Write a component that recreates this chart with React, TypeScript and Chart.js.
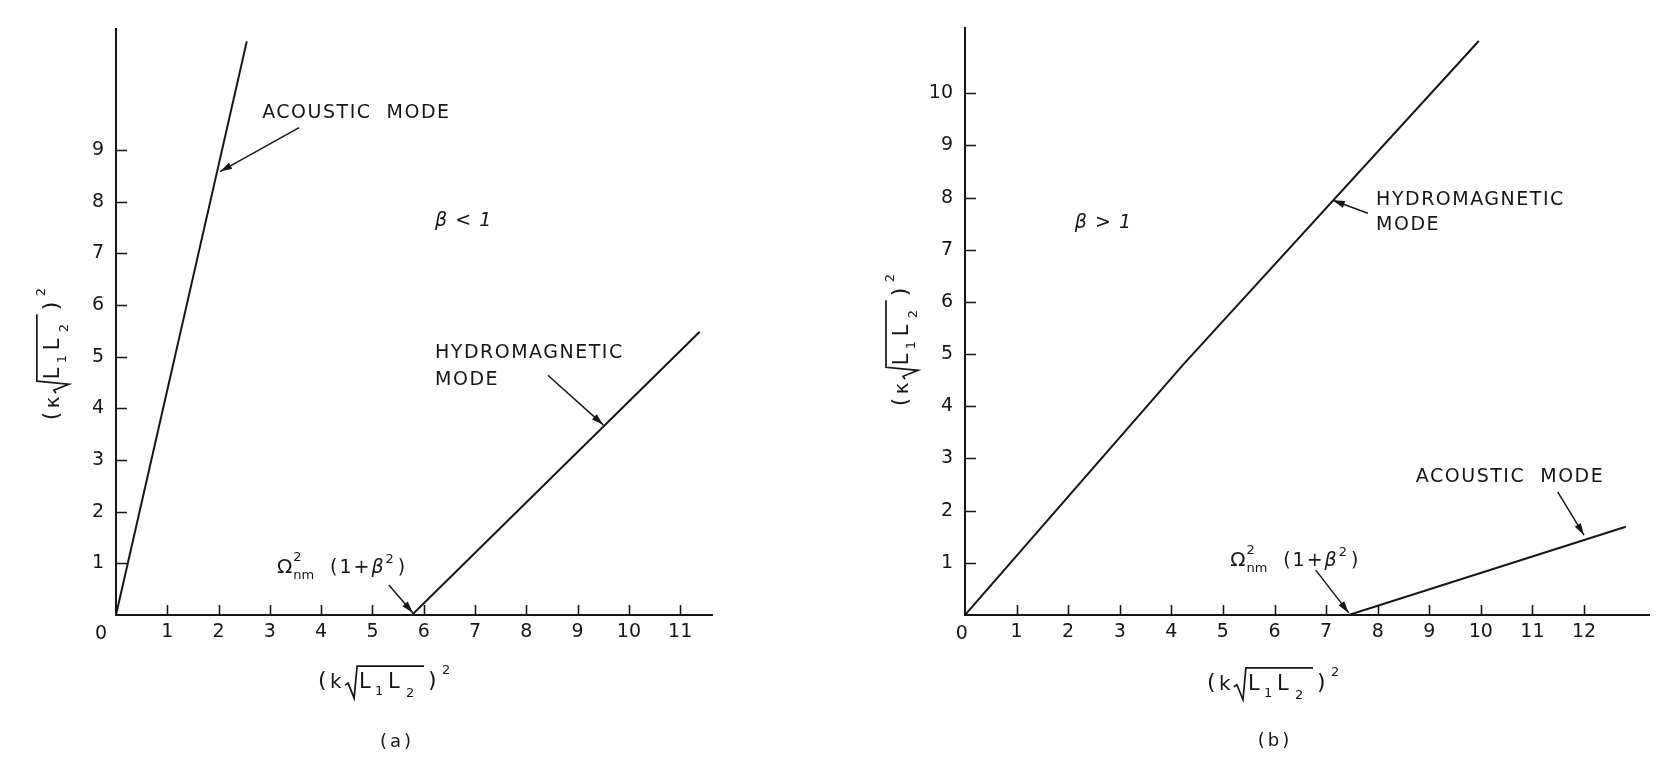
import React, { useEffect, useRef } from "react";
import { Chart, registerables } from "chart.js";

Chart.register(...registerables);

const FONT = '"DejaVu Sans", "Liberation Sans", sans-serif';
const INK = "#161616";

// ---------- Panel (a): beta < 1 ----------
const A_X_TICKS = [0, 1, 2, 3, 4, 5, 6, 7, 8, 9, 10, 11];
const A_Y_TICKS = [1, 2, 3, 4, 5, 6, 7, 8, 9];
const A_X_MAX = 11.62;
const A_Y_MAX = 11.34;
const A_ACOUSTIC_X = [0, 2.55];
const A_ACOUSTIC_Y = [0, 11.1];
const A_HYDRO_X = [5.77, 11.38];
const A_HYDRO_Y = [0, 5.48];

// ---------- Panel (b): beta > 1 ----------
const B_X_TICKS = [0, 1, 2, 3, 4, 5, 6, 7, 8, 9, 10, 11, 12];
const B_Y_TICKS = [1, 2, 3, 4, 5, 6, 7, 8, 9, 10];
const B_X_MAX = 13.26;
const B_Y_MAX = 11.25;
const B_HYDRO_X = [0, 4.23, 9.96];
const B_HYDRO_Y = [0, 4.8, 11.0];
const B_ACOUSTIC_X = [7.44, 12.81];
const B_ACOUSTIC_Y = [0, 1.69];

type Pt = [number, number];
type Label = { text: string; at: Pt; italic?: boolean };
type Arrow = { from: Pt; to: Pt };

type PanelCfg = {
  xTicks: number[];
  yTicks: number[];
  xMax: number;
  yMax: number;
  series: { xs: number[]; ys: number[] }[];
  padding: { left: number; right: number; top: number; bottom: number };
  labels: Label[];
  arrows: Arrow[];
  omegaAt: Pt;
  xTitleAt: Pt;
  yTitleAt: Pt;
  tag: string;
  tagAt: Pt;
  originLabelAt: Pt;
};

const PANEL_A: PanelCfg = {
  xTicks: A_X_TICKS,
  yTicks: A_Y_TICKS,
  xMax: A_X_MAX,
  yMax: A_Y_MAX,
  series: [
    { xs: A_ACOUSTIC_X, ys: A_ACOUSTIC_Y },
    { xs: A_HYDRO_X, ys: A_HYDRO_Y },
  ],
  padding: { left: 46, right: 126, top: 29, bottom: 125 },
  labels: [
    { text: "ACOUSTIC  MODE", at: [2.85, 9.62] },
    { text: "β < 1", at: [6.22, 7.53], italic: true },
    { text: "HYDROMAGNETIC", at: [6.22, 4.97] },
    { text: "MODE", at: [6.22, 4.45] },
  ],
  arrows: [
    { from: [3.57, 9.43], to: [2.03, 8.58] },
    { from: [8.42, 4.64], to: [9.5, 3.68] },
    { from: [5.32, 0.58], to: [5.79, 0.04] },
  ],
  omegaAt: [3.14, 0.81],
  xTitleAt: [3.94, -1.26],
  yTitleAt: [-1.27, 3.77],
  tag: "(a)",
  tagAt: [5.48, -2.46],
  originLabelAt: [-0.29, 0],
};

const PANEL_B: PanelCfg = {
  xTicks: B_X_TICKS,
  yTicks: B_Y_TICKS,
  xMax: B_X_MAX,
  yMax: B_Y_MAX,
  series: [
    { xs: B_HYDRO_X, ys: B_HYDRO_Y },
    { xs: B_ACOUSTIC_X, ys: B_ACOUSTIC_Y },
  ],
  padding: { left: 57, right: 27, top: 28, bottom: 125 },
  labels: [
    { text: "β > 1", at: [2.13, 7.41], italic: true },
    { text: "HYDROMAGNETIC", at: [7.97, 7.85] },
    { text: "MODE", at: [7.97, 7.38] },
    { text: "ACOUSTIC  MODE", at: [8.74, 2.55] },
  ],
  arrows: [
    { from: [7.81, 7.7], to: [7.13, 7.95] },
    { from: [11.49, 2.36], to: [12.0, 1.53] },
    { from: [6.8, 0.86], to: [7.44, 0.04] },
  ],
  omegaAt: [5.14, 0.94],
  xTitleAt: [4.69, -1.28],
  yTitleAt: [-1.26, 4.0],
  tag: "(b)",
  tagAt: [6.01, -2.43],
  originLabelAt: [-0.06, 0],
};

function drawArrow(ctx: CanvasRenderingContext2D, x1: number, y1: number, x2: number, y2: number) {
  ctx.beginPath();
  ctx.moveTo(x1, y1);
  ctx.lineTo(x2, y2);
  ctx.stroke();
  const a = Math.atan2(y2 - y1, x2 - x1);
  const L = 12;
  const W = 3.5;
  const bx = x2 - L * Math.cos(a);
  const by = y2 - L * Math.sin(a);
  ctx.beginPath();
  ctx.moveTo(x2, y2);
  ctx.lineTo(bx + W * Math.sin(a), by - W * Math.cos(a));
  ctx.lineTo(bx - W * Math.sin(a), by + W * Math.cos(a));
  ctx.closePath();
  ctx.fill();
}

function drawAxisTitle(ctx: CanvasRenderingContext2D, x: number, y: number, rotated: boolean, sym: string) {
  ctx.save();
  ctx.translate(x, y);
  if (rotated) ctx.rotate(-Math.PI / 2);
  ctx.fillStyle = INK;
  ctx.strokeStyle = INK;
  ctx.lineWidth = 1.7;
  ctx.textAlign = "left";
  ctx.textBaseline = "alphabetic";
  const t = (s: string, size: number, dx: number, dy: number) => {
    ctx.font = `${size}px ${FONT}`;
    ctx.fillText(s, dx, dy);
  };
  t("(", 22, 0, 7);
  t(sym, 20, 12, 8);
  ctx.beginPath();
  ctx.moveTo(27, 5);
  ctx.lineTo(30, 3);
  ctx.lineTo(36, 18);
  ctx.lineTo(39, -14);
  ctx.lineTo(106, -14);
  ctx.stroke();
  t("L", 21, 41, 8);
  t("1", 13, 57, 15);
  t("L", 21, 70, 8);
  t("2", 13, 88, 17);
  t(")", 22, 110, 7);
  t("2", 13, 124, -6);
  ctx.restore();
}

function drawOmega(ctx: CanvasRenderingContext2D, x: number, y: number) {
  ctx.save();
  ctx.fillStyle = INK;
  ctx.textAlign = "left";
  ctx.textBaseline = "alphabetic";
  ctx.font = `20px ${FONT}`;
  ctx.fillText("Ω", x, y);
  const w = ctx.measureText("Ω").width;
  ctx.font = `13px ${FONT}`;
  ctx.fillText("2", x + w + 1, y - 12);
  ctx.fillText("nm", x + w + 1, y + 6);
  let cx = x + 53;
  ctx.font = `19px ${FONT}`;
  (ctx as any).letterSpacing = "2px";
  ctx.fillText("(1+", cx, y);
  cx += ctx.measureText("(1+").width;
  ctx.font = `italic 19px ${FONT}`;
  ctx.fillText("β", cx, y);
  cx += ctx.measureText("β").width;
  ctx.font = `13px ${FONT}`;
  ctx.fillText("2", cx, y - 10);
  cx += ctx.measureText("2").width + 2;
  ctx.font = `19px ${FONT}`;
  ctx.fillText(")", cx, y);
  ctx.restore();
}

function decorPlugin(cfg: PanelCfg) {
  return {
    id: "decor",
    afterDraw(chart: any) {
      const ctx: CanvasRenderingContext2D = chart.ctx;
      const xs = chart.scales.x;
      const ys = chart.scales.y;
      const px = (v: number) => xs.getPixelForValue(v);
      const py = (v: number) => ys.getPixelForValue(v);
      const area = chart.chartArea;
      ctx.save();
      ctx.strokeStyle = INK;
      ctx.fillStyle = INK;
      // inward tick marks
      ctx.lineWidth = 1.6;
      ctx.beginPath();
      cfg.xTicks.forEach((v) => {
        if (v === 0) return;
        const x = Math.round(px(v)) + 0.5;
        ctx.moveTo(x, area.bottom);
        ctx.lineTo(x, area.bottom - 10);
      });
      cfg.yTicks.forEach((v) => {
        const y = Math.round(py(v)) + 0.5;
        ctx.moveTo(area.left, y);
        ctx.lineTo(area.left + 11, y);
      });
      ctx.stroke();

      // origin label
      ctx.font = `19px ${FONT}`;
      ctx.textAlign = "center";
      ctx.textBaseline = "middle";
      ctx.fillText("0", px(cfg.originLabelAt[0]), py(cfg.originLabelAt[1]) + 19);

      // text labels
      ctx.textAlign = "left";
      ctx.textBaseline = "alphabetic";
      cfg.labels.forEach((l) => {
        ctx.font = `${l.italic ? "italic " : ""}19px ${FONT}`;
        (ctx as any).letterSpacing = l.italic ? "1px" : "1.5px";
        ctx.fillText(l.text, px(l.at[0]), py(l.at[1]));
      });
      (ctx as any).letterSpacing = "0px";

      // arrows
      ctx.lineWidth = 1.5;
      cfg.arrows.forEach((a) => drawArrow(ctx, px(a.from[0]), py(a.from[1]), px(a.to[0]), py(a.to[1])));

      drawOmega(ctx, px(cfg.omegaAt[0]), py(cfg.omegaAt[1]));
      drawAxisTitle(ctx, px(cfg.xTitleAt[0]), py(cfg.xTitleAt[1]), false, "k");
      drawAxisTitle(ctx, px(cfg.yTitleAt[0]), py(cfg.yTitleAt[1]), true, "κ");

      ctx.font = `18px ${FONT}`;
      (ctx as any).letterSpacing = "3px";
      ctx.textAlign = "center";
      ctx.textBaseline = "middle";
      ctx.fillText(cfg.tag, px(cfg.tagAt[0]), py(cfg.tagAt[1]));
      ctx.restore();
    },
  };
}

function buildConfig(cfg: PanelCfg): any {
  return {
    type: "scatter",
    data: {
      datasets: cfg.series.map((s) => ({
        data: s.xs.map((x, i) => ({ x, y: s.ys[i] })),
        showLine: true,
        borderColor: INK,
        borderWidth: 2,
        pointRadius: 0,
        tension: 0,
      })),
    },
    options: {
      responsive: false,
      animation: false,
      devicePixelRatio: 1,
      layout: { padding: cfg.padding },
      plugins: { legend: { display: false }, tooltip: { enabled: false } },
      scales: {
        x: {
          type: "linear",
          min: 0,
          max: cfg.xMax,
          afterBuildTicks: (scale: any) => {
            scale.ticks = cfg.xTicks.map((v) => ({ value: v }));
          },
          afterFit: (scale: any) => {
            scale.height = 40;
          },
          grid: { display: true, drawOnChartArea: false, drawTicks: false, lineWidth: 1 },
          border: { display: true, color: INK, width: 2 },
          ticks: {
            color: INK,
            padding: 6,
            maxRotation: 0,
            autoSkip: false,
            font: { family: FONT, size: 19 },
            callback: (v: any) => (Number(v) === 0 ? "" : String(v)),
          },
        },
        y: {
          type: "linear",
          min: 0,
          max: cfg.yMax,
          afterBuildTicks: (scale: any) => {
            scale.ticks = cfg.yTicks.map((v) => ({ value: v }));
          },
          afterFit: (scale: any) => {
            scale.width = 70;
          },
          grid: { display: true, drawOnChartArea: false, drawTicks: false, lineWidth: 1 },
          border: { display: true, color: INK, width: 2 },
          ticks: {
            color: INK,
            padding: 12,
            autoSkip: false,
            font: { family: FONT, size: 19 },
            callback: (v: any) => String(v),
          },
        },
      },
    },
    plugins: [decorPlugin(cfg)],
  };
}

function Panel({ cfg, left }: { cfg: PanelCfg; left: number }) {
  const ref = useRef<HTMLCanvasElement>(null);
  useEffect(() => {
    const chart = new Chart(ref.current as HTMLCanvasElement, buildConfig(cfg));
    return () => chart.destroy();
  }, [cfg]);
  return (
    <canvas
      ref={ref}
      width={838}
      height={780}
      style={{ position: "absolute", left, top: 0, width: 838, height: 780, display: "block" }}
    />
  );
}

export default function App() {
  return (
    <div
      style={{
        position: "fixed",
        left: 0,
        top: 0,
        width: 1676,
        height: 780,
        background: "#ffffff",
        overflow: "hidden",
      }}
    >
      <Panel cfg={PANEL_A} left={0} />
      <Panel cfg={PANEL_B} left={838} />
    </div>
  );
}
